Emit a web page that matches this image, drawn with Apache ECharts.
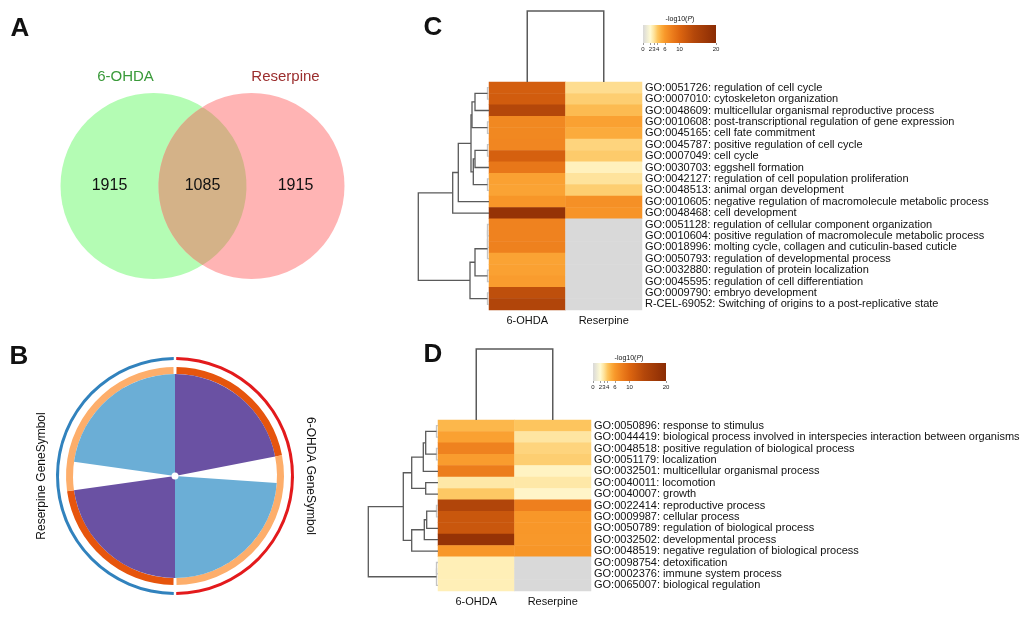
<!DOCTYPE html>
<html><head><meta charset="utf-8">
<script src="https://cdn.jsdelivr.net/npm/echarts@6/dist/echarts.min.js"></script>
<style>html,body{margin:0;padding:0;background:#fff}#c{width:1031px;height:620px}</style>
</head><body><div id="c"></div>
<script>
// ================= DATA =================
// Panel A – Venn
const vennSets = ['6-OHDA', 'Reserpine'];
const vennOnly = [1915, 1915];
const vennShared = 1085;

// Panel B – circos (arc sizes in degrees, clockwise from 12 o'clock)
const chordGroups = ['6-OHDA GeneSymbol', 'Reserpine GeneSymbol'];
const ringShared = [79, 82];     // dark orange arcs
const ringUnique = [101, 98];    // light orange arcs
const linkPurple = [79, 82];     // shared-gene links
const linkGap = [15, 16];
const linkBlue = [86, 82];       // shared-term links

// Panels C / D – heatmaps
const heatCols = ['6-OHDA', 'Reserpine'];
const termsC = [
 'GO:0051726: regulation of cell cycle',
 'GO:0007010: cytoskeleton organization',
 'GO:0048609: multicellular organismal reproductive process',
 'GO:0010608: post-transcriptional regulation of gene expression',
 'GO:0045165: cell fate commitment',
 'GO:0045787: positive regulation of cell cycle',
 'GO:0007049: cell cycle',
 'GO:0030703: eggshell formation',
 'GO:0042127: regulation of cell population proliferation',
 'GO:0048513: animal organ development',
 'GO:0010605: negative regulation of macromolecule metabolic process',
 'GO:0048468: cell development',
 'GO:0051128: regulation of cellular component organization',
 'GO:0010604: positive regulation of macromolecule metabolic process',
 'GO:0018996: molting cycle, collagen and cuticulin-based cuticle',
 'GO:0050793: regulation of developmental process',
 'GO:0032880: regulation of protein localization',
 'GO:0045595: regulation of cell differentiation',
 'GO:0009790: embryo development',
 'R-CEL-69052: Switching of origins to a post-replicative state'
];
const valsC_6OHDA = [11, 11.2, 14, 7.2, 7.2, 7.3, 10.8, 8.5, 5.6, 5.5, 6.2, 18.5, 7.6, 7.6, 7.7, 5.5, 5.6, 5.8, 13, 14.5];
const valsC_Res   = [3.2, 3.7, 4.4, 5.6, 5.1, 3.5, 3.8, 2.4, 3.0, 3.7, 6.6, 6.3, 0, 0, 0, 0, 0, 0, 0, 0];

const termsD = [
 'GO:0050896: response to stimulus',
 'GO:0044419: biological process involved in interspecies interaction between organisms',
 'GO:0048518: positive regulation of biological process',
 'GO:0051179: localization',
 'GO:0032501: multicellular organismal process',
 'GO:0040011: locomotion',
 'GO:0040007: growth',
 'GO:0022414: reproductive process',
 'GO:0009987: cellular process',
 'GO:0050789: regulation of biological process',
 'GO:0032502: developmental process',
 'GO:0048519: negative regulation of biological process',
 'GO:0098754: detoxification',
 'GO:0002376: immune system process',
 'GO:0065007: biological regulation'
];
const valsD_6OHDA = [4.6, 5.6, 7.6, 5.8, 8.0, 2.8, 3.9, 14.5, 12, 12, 18.5, 6.1, 2.5, 2.5, 2.5];
const valsD_Res   = [4.0, 2.9, 3.5, 3.7, 2.3, 2.8, 2.2, 7.8, 6.1, 6.1, 6.0, 6.2, 0, 0, 0];

const cbarTicks = [0, 2, 3, 4, 6, 10, 20];

// dendrogram merges [childA, childB, height]; leaves 0..n-1, new nodes n, n+1, ...
const dendroRowsC = [
 [0,1,1.5],[20,2,14],[3,4,1.5],[21,22,17],[5,6,1.5],[24,7,14],[8,9,1.5],[25,26,15.7],
 [23,27,18],[28,10,30.7],[29,11,36.3],
 [12,13,1.5],[31,14,1.5],[32,15,1.5],[16,17,1.5],[33,34,14],[18,19,1.5],[35,36,19],
 [30,37,70.7]
];
const dendroRowsD = [
 [0,1,1.5],[2,3,1.5],[15,16,12.3],[17,4,14.7],[5,6,12.3],[18,19,26.3],
 [7,8,1.5],[21,9,11.3],[22,10,13.7],[23,11,26.3],[20,24,34.7],
 [12,13,1.5],[26,14,1.5],[25,27,69.7]
];
const dendroColsC = [[0,1,71]];
const dendroColsD = [[0,1,71]];

// ================= STYLE / LAYOUT =================
const FONT = 'Liberation Sans, Arial, sans-serif';
const cmapStops = [[0,'#d9d9d9'],[2,'#fffad2'],[3,'#fee39c'],[4,'#fdc55e'],[5,'#fbad3e'],
  [6,'#f8982a'],[8,'#ec7d1c'],[10,'#dd6610'],[14,'#b4470a'],[20,'#8a2c04']];
function hex2rgb(h){return [1,3,5].map(i=>parseInt(h.substr(i,2),16));}
function cmap(v){
  for (let i=1;i<cmapStops.length;i++){
    if (v<=cmapStops[i][0]){
      const [v0,c0]=cmapStops[i-1],[v1,c1]=cmapStops[i];
      const t=(v-v0)/(v1-v0), a=hex2rgb(c0), b=hex2rgb(c1);
      return 'rgb('+a.map((x,k)=>Math.round(x+(b[k]-x)*t)).join(',')+')';
    }
  }
  return cmapStops[cmapStops.length-1][1];
}
const vmColors=[]; for(let i=0;i<=80;i++) vmColors.push(cmap(i*0.25));

function heatData(a,b){const d=[];a.forEach((v,i)=>d.push([0,i,v]));b.forEach((v,i)=>d.push([1,i,v]));return d;}
function dendroSegs(merges,n){
  const pos=[],hgt=[];for(let i=0;i<n;i++){pos[i]=i;hgt[i]=0;}
  return merges.map((m,k)=>{const [a,b,h]=m;pos[n+k]=(pos[a]+pos[b])/2;hgt[n+k]=h;return [pos[a],hgt[a],pos[b],hgt[b],h];});
}
const DCOL='#5a5a5a';
function rowDendro(params,api){
  const pa=api.value(0),ha=api.value(1),pb=api.value(2),hb=api.value(3),h=api.value(4);
  return {type:'polyline',shape:{points:[api.coord([ha,pa]),api.coord([h,pa]),api.coord([h,pb]),api.coord([hb,pb])]},
    style:{stroke:h<2?'#c4c4c4':DCOL,lineWidth:1.3,fill:null}};
}
function colDendro(params,api){
  const pa=api.value(0),ha=api.value(1),pb=api.value(2),hb=api.value(3),h=api.value(4);
  return {type:'polyline',shape:{points:[api.coord([pa,ha]),api.coord([pa,h]),api.coord([pb,h]),api.coord([pb,hb])]},
    style:{stroke:DCOL,lineWidth:1.5,fill:null}};
}
const gradStops=cmapStops.map(s=>({offset:s[0]/20,color:s[1]}));
function cbarItem(params,api){
  const p0=api.coord([api.value(0),1]),p1=api.coord([api.value(1),0]);
  return {type:'rect',shape:{x:p0[0],y:p0[1],width:p1[0]-p0[0],height:p1[1]-p0[1]},
    style:{fill:new echarts.graphic.LinearGradient(0,0,1,0,gradStops)}};
}

// Venn geometry (area-proportional)
const VR=93, VMID=[202.5,186];
const frac=vennShared/(vennShared+vennOnly[0]);
let lo=0,hi=1;for(let i=0;i<60;i++){const x=(lo+hi)/2;const lens=(2*Math.acos(x)-2*x*Math.sqrt(1-x*x))/Math.PI;if(lens>frac)lo=x;else hi=x;}
const VD=2*VR*(lo+hi)/2;
const vc1=[VMID[0]-VD/2,VMID[1]], vc2=[VMID[0]+VD/2,VMID[1]];
const vennCircles=[[vc1[0],vc1[1],VR],[vc2[0],vc2[1],VR]];
const vennFill=['#b4fcb4','#ffb4b4'], lensFill='#d4b288';
const vennTexts=[
 [((vc1[0]-VR)+(vc2[0]-VR))/2,VMID[1],String(vennOnly[0]),'#111',16],
 [VMID[0],VMID[1],String(vennShared),'#111',16],
 [((vc1[0]+VR)+(vc2[0]+VR))/2,VMID[1],String(vennOnly[1]),'#111',16],
 [vc1[0]-28,VMID[1]-VR-16.5,vennSets[0],'#3a9a3a',15],
 [vc2[0]+34,VMID[1]-VR-16.5,vennSets[1],'#9b2d2d',15]
];

// Circos
const CC=[175,476];
const RED='#e31a1c',BLUE='#3182bd',DARK='#e6550d',LIGHT='#fdae6b',PURPLE='#6a51a3',LBLUE='#6baed6',T='rgba(0,0,0,0)';
const og=1.2, ig=1.6;
const outerData=[{value:og/2,itemStyle:{color:T}},
  {value:ringShared[0]+ringUnique[0]-og,name:vennSets[0],itemStyle:{color:RED}},
  {value:og,itemStyle:{color:T}},
  {value:ringShared[1]+ringUnique[1]-og,name:vennSets[1],itemStyle:{color:BLUE}},
  {value:og/2,itemStyle:{color:T}}];
const innerData=[{value:ig/2,itemStyle:{color:T}},
  {value:ringShared[0]-ig/2,itemStyle:{color:DARK}},{value:ringUnique[0]-ig/2,itemStyle:{color:LIGHT}},
  {value:ig,itemStyle:{color:T}},
  {value:ringShared[1]-ig/2,itemStyle:{color:DARK}},{value:ringUnique[1]-ig/2,itemStyle:{color:LIGHT}},
  {value:ig/2,itemStyle:{color:T}}];
const linkData=[];
for(let g=0;g<2;g++){
  linkData.push({value:linkPurple[g],itemStyle:{color:PURPLE}});
  linkData.push({value:linkGap[g],itemStyle:{color:T}});
  linkData.push({value:linkBlue[g],itemStyle:{color:LBLUE}});
}
function pie(radius,data){
  return {type:'pie',center:CC,radius:radius,startAngle:90,clockwise:true,data:data,silent:true,
    label:{show:false},labelLine:{show:false},emphasis:{disabled:true},selectedMode:false,
    avoidLabelOverlap:false,minAngle:0,itemStyle:{borderWidth:0},animation:false};
}

function valAxis(gi,min,max,inverse){return {type:'value',gridIndex:gi,min:min,max:max,inverse:!!inverse,show:false};}
function cbarAxis(gi){return {type:'value',gridIndex:gi,min:0,max:20,
  axisLine:{show:false},splitLine:{show:false},
  axisTick:{show:true,customValues:cbarTicks,length:2,lineStyle:{color:'#555',width:0.6}},
  axisLabel:{customValues:cbarTicks,fontSize:6,margin:3,color:'#222',fontFamily:FONT,showMinLabel:true,showMaxLabel:true}};}
function catX(gi){return {type:'category',gridIndex:gi,data:heatCols,position:'bottom',
  axisLine:{show:false},axisTick:{show:false},splitLine:{show:false},
  axisLabel:{interval:0,fontSize:11,margin:5,color:'#111',fontFamily:FONT}};}
function catY(gi,terms){return {type:'category',gridIndex:gi,data:terms,inverse:true,position:'right',
  axisLine:{show:false},axisTick:{show:false},splitLine:{show:false},
  axisLabel:{interval:0,fontSize:11,margin:3,color:'#111',fontFamily:FONT,align:'left'}};}

const G=(l,t,w,h)=>({left:l,top:t,width:w,height:h,containLabel:false,outerBoundsMode:'none'});
const option={
  animation:false,
  backgroundColor:'#fff',
  textStyle:{fontFamily:FONT},
  grid:[G(489,82,153,228),G(438,420,153,171),G(414,82,75,228),G(489,0,153,82),
        G(363,420,75,171),G(438,340,153,80),G(643,25,73,18),G(593,363,73,18),G(0,0,1031,620)],
  xAxis:[catX(0),catX(1),valAxis(2,0,75,true),valAxis(3,-0.5,1.5),valAxis(4,0,75,true),valAxis(5,-0.5,1.5),
         cbarAxis(6),cbarAxis(7),valAxis(8,0,1031)],
  yAxis:[catY(0,termsC),catY(1,termsD),valAxis(2,-0.5,termsC.length-0.5,true),valAxis(3,0,82),
         valAxis(4,-0.5,termsD.length-0.5,true),valAxis(5,0,80),valAxis(6,0,1),valAxis(7,0,1),valAxis(8,0,620,true)],
  visualMap:{show:false,type:'continuous',min:0,max:20,dimension:2,seriesIndex:[0,1],inRange:{color:vmColors}},
  series:[
    {type:'heatmap',xAxisIndex:0,yAxisIndex:0,data:heatData(valsC_6OHDA,valsC_Res),itemStyle:{borderWidth:0},emphasis:{disabled:true},silent:true},
    {type:'heatmap',xAxisIndex:1,yAxisIndex:1,data:heatData(valsD_6OHDA,valsD_Res),itemStyle:{borderWidth:0},emphasis:{disabled:true},silent:true},
    {type:'custom',xAxisIndex:2,yAxisIndex:2,renderItem:rowDendro,data:dendroSegs(dendroRowsC,termsC.length),silent:true},
    {type:'custom',xAxisIndex:3,yAxisIndex:3,renderItem:colDendro,data:dendroSegs(dendroColsC,heatCols.length),silent:true},
    {type:'custom',xAxisIndex:4,yAxisIndex:4,renderItem:rowDendro,data:dendroSegs(dendroRowsD,termsD.length),silent:true},
    {type:'custom',xAxisIndex:5,yAxisIndex:5,renderItem:colDendro,data:dendroSegs(dendroColsD,heatCols.length),silent:true},
    {type:'custom',xAxisIndex:6,yAxisIndex:6,renderItem:cbarItem,data:[[0,20]],silent:true},
    {type:'custom',xAxisIndex:7,yAxisIndex:7,renderItem:cbarItem,data:[[0,20]],silent:true},
    {type:'custom',xAxisIndex:8,yAxisIndex:8,silent:true,data:vennCircles,
      renderItem:(p,api)=>{const c=api.coord([api.value(0),api.value(1)]);const r=api.size([api.value(2),0])[0];
        return {type:'circle',shape:{cx:c[0],cy:c[1],r:r},style:{fill:vennFill[p.dataIndex]}};}},
    {type:'custom',xAxisIndex:8,yAxisIndex:8,silent:true,data:[[vc1[0],vc1[1],vc2[0],vc2[1],VR]],
      renderItem:(p,api)=>{const a=api.coord([api.value(0),api.value(1)]),b=api.coord([api.value(2),api.value(3)]);
        const r=api.size([api.value(4),0])[0];const half=(b[0]-a[0])/2,mx=(a[0]+b[0])/2,h=Math.sqrt(r*r-half*half);
        const d='M'+mx+','+(a[1]-h)+' A'+r+','+r+' 0 0 0 '+mx+','+(a[1]+h)+' A'+r+','+r+' 0 0 0 '+mx+','+(a[1]-h)+' Z';
        return {type:'path',shape:{pathData:d},style:{fill:lensFill}};}},
    {type:'custom',xAxisIndex:8,yAxisIndex:8,silent:true,data:vennTexts.map(t=>[t[0],t[1]]),
      renderItem:(p,api)=>{const c=api.coord([api.value(0),api.value(1)]);const t=vennTexts[p.dataIndex];
        return {type:'text',x:c[0],y:c[1],style:{text:t[2],fill:t[3],fontSize:t[4],fontFamily:FONT,align:'center',verticalAlign:'middle'}};}},
    pie([116,119],outerData),
    pie([102,109],innerData),
    pie([0,102],linkData),
    pie([0,3.5],[{value:1,itemStyle:{color:'#fff'}}])
  ],
  graphic:[
    {type:'text',x:20,y:29,style:{text:'A',fontSize:26,fontWeight:'bold',fontFamily:FONT,fill:'#111',align:'center',verticalAlign:'middle'}},
    {type:'text',x:19,y:357,style:{text:'B',fontSize:26,fontWeight:'bold',fontFamily:FONT,fill:'#111',align:'center',verticalAlign:'middle'}},
    {type:'text',x:433,y:28,style:{text:'C',fontSize:26,fontWeight:'bold',fontFamily:FONT,fill:'#111',align:'center',verticalAlign:'middle'}},
    {type:'text',x:433,y:355,style:{text:'D',fontSize:26,fontWeight:'bold',fontFamily:FONT,fill:'#111',align:'center',verticalAlign:'middle'}},
    {type:'text',x:42,y:476,rotation:Math.PI/2,style:{text:chordGroups[1],fontSize:12,fontFamily:FONT,fill:'#111',align:'center',verticalAlign:'middle'}},
    {type:'text',x:310,y:476,rotation:-Math.PI/2,style:{text:chordGroups[0],fontSize:12,fontFamily:FONT,fill:'#111',align:'center',verticalAlign:'middle'}},
    {type:'text',x:680,y:19,style:{text:'-log10({i|P})',rich:{i:{fontStyle:'italic',fontSize:7,fontFamily:FONT}},fontSize:7,fontFamily:FONT,fill:'#111',align:'center',verticalAlign:'middle'}},
    {type:'text',x:629,y:358,style:{text:'-log10({i|P})',rich:{i:{fontStyle:'italic',fontSize:7,fontFamily:FONT}},fontSize:7,fontFamily:FONT,fill:'#111',align:'center',verticalAlign:'middle'}}
  ]
};
const chart=echarts.init(document.getElementById('c'));
chart.setOption(option);
</script></body></html>
